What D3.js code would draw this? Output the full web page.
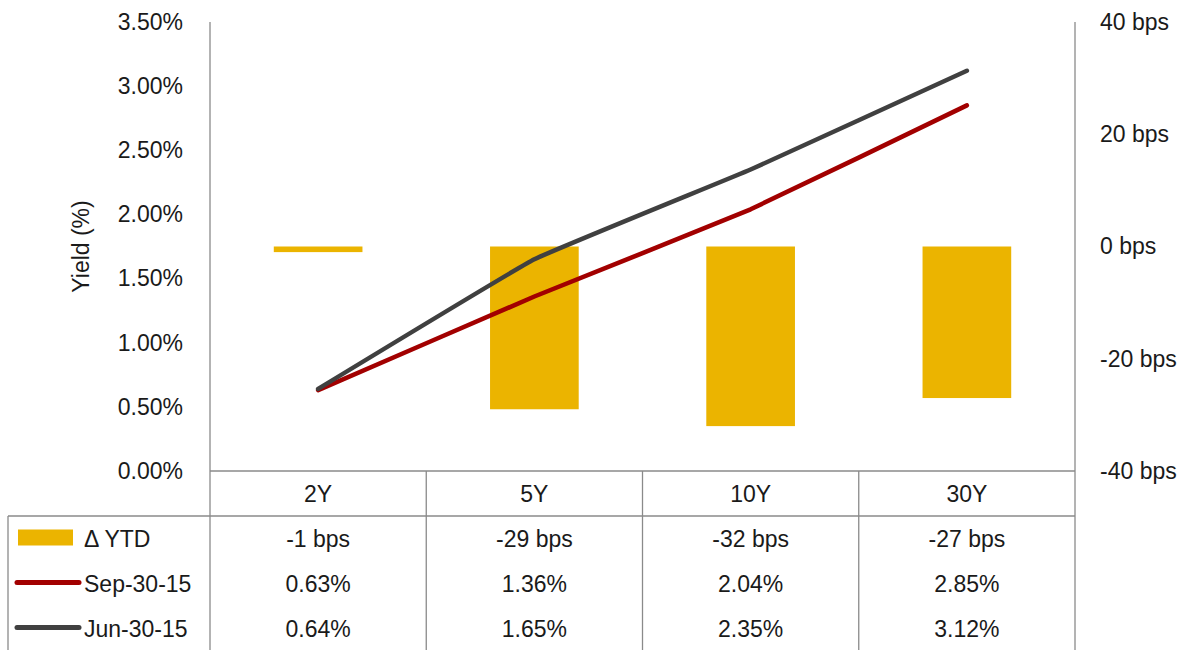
<!DOCTYPE html>
<html>
<head>
<meta charset="utf-8">
<script src="https://cdn.jsdelivr.net/npm/d3@7"></script>
<style>
  body { margin: 0; background: #fff; }
  svg text { font-family: "Liberation Sans", Arial, sans-serif; fill: #1a1a1a; }
</style>
</head>
<body>
<div class="wrapper"></div>
<script>
// chart data
const tenors = ["2Y", "5Y", "10Y", "30Y"];
const deltaYtd = [-1, -29, -32, -27];          // bps
const sep30 = [0.63, 1.36, 2.04, 2.85];        // %
const jun30 = [0.64, 1.65, 2.35, 3.12];        // %
const leftTicks = [0, 0.5, 1, 1.5, 2, 2.5, 3, 3.5];
const rightTicks = [-40, -20, 0, 20, 40];

const width = 1192, height = 650;
const plot = {left: 210, right: 1075, top: 22, bottom: 471};
const rowH = 45;
const gold = "#ebb400", red = "#a20000", dark = "#404040", grid = "#8a8a8a";
const fs = "23px";

const svg = d3.select(".wrapper").append("svg")
    .attr("width", width)
    .attr("height", height);

const x = d3.scaleBand().domain(tenors).range([plot.left, plot.right]).padding(0);
const yL = d3.scaleLinear().domain([0, 3.5]).range([plot.bottom, plot.top]);
const yR = d3.scaleLinear().domain([-40, 40]).range([plot.bottom, plot.top]);

// bars (right axis)
const barW = x.bandwidth() * 0.41;
svg.selectAll("rect.bar").data(deltaYtd).enter().append("rect")
    .attr("class", "bar")
    .attr("x", (d, i) => x(tenors[i]) + (x.bandwidth() - barW) / 2)
    .attr("width", barW)
    .attr("y", d => yR(Math.max(0, d)))
    .attr("height", d => Math.abs(yR(d) - yR(0)))
    .attr("fill", gold);

// lines (left axis), lightly smoothed like the original
const line = d3.line()
    .x((d, i) => x(tenors[i]) + x.bandwidth() / 2)
    .y(d => yL(d))
    .curve(d3.curveCardinal.tension(0.75));

[[sep30, red], [jun30, dark]].forEach(([vals, col]) => {
    svg.append("path")
        .datum(vals)
        .attr("d", line)
        .attr("fill", "none")
        .attr("stroke", col)
        .attr("stroke-width", 4.5)
        .attr("stroke-linecap", "round")
        .attr("stroke-linejoin", "round");
});

// axes
const axL = svg.append("g")
    .attr("transform", `translate(${plot.left},0)`)
    .call(d3.axisLeft(yL).tickValues(leftTicks).tickSize(0).tickPadding(27)
        .tickFormat(d => d.toFixed(2) + "%"));
const axR = svg.append("g")
    .attr("transform", `translate(${plot.right},0)`)
    .call(d3.axisRight(yR).tickValues(rightTicks).tickSize(0).tickPadding(25)
        .tickFormat(d => d + " bps"));
[axL, axR].forEach(a => {
    a.select(".domain").remove();
    a.selectAll("text").style("font-size", fs).attr("font-family", null).attr("fill", "#1a1a1a");
});

svg.append("text")
    .attr("transform", `translate(89,${(plot.top + plot.bottom) / 2}) rotate(-90)`)
    .attr("text-anchor", "middle")
    .style("font-size", fs)
    .text("Yield (%)");

// table grid
const tableBottom = plot.bottom + rowH * 4;
const g = svg.append("g").attr("stroke", grid).attr("stroke-width", 1.3);
// axis verticals that continue into table
g.append("line").attr("x1", plot.left).attr("x2", plot.left).attr("y1", plot.top).attr("y2", tableBottom);
g.append("line").attr("x1", plot.right).attr("x2", plot.right).attr("y1", plot.top).attr("y2", tableBottom);
// category separators
tenors.slice(1).forEach(t => {
    g.append("line").attr("x1", x(t)).attr("x2", x(t)).attr("y1", plot.bottom).attr("y2", tableBottom);
});
g.append("line").attr("x1", plot.left).attr("x2", plot.right).attr("y1", plot.bottom).attr("y2", plot.bottom);
g.append("line").attr("x1", 8).attr("x2", plot.right).attr("y1", plot.bottom + rowH).attr("y2", plot.bottom + rowH);
g.append("line").attr("x1", 8).attr("x2", 8).attr("y1", plot.bottom + rowH).attr("y2", tableBottom);

// header labels
svg.selectAll("text.cat").data(tenors).enter().append("text")
    .attr("class", "cat")
    .attr("x", d => x(d) + x.bandwidth() / 2)
    .attr("y", plot.bottom + rowH / 2)
    .attr("dy", "0.35em")
    .attr("text-anchor", "middle")
    .style("font-size", fs)
    .text(d => d);

// data rows
const rows = [
    {name: "\u0394 YTD", vals: deltaYtd.map(d => d + " bps"), type: "bar", color: gold},
    {name: "Sep-30-15", vals: sep30.map(d => d.toFixed(2) + "%"), type: "line", color: red},
    {name: "Jun-30-15", vals: jun30.map(d => d.toFixed(2) + "%"), type: "line", color: dark}
];

rows.forEach((r, ri) => {
    const cy = plot.bottom + rowH * (ri + 1) + rowH / 2;
    if (r.type === "bar") {
        svg.append("rect").attr("x", 18).attr("y", cy - 9).attr("width", 55).attr("height", 16).attr("fill", r.color);
    } else {
        svg.append("line").attr("x1", 17).attr("x2", 79).attr("y1", cy - 1).attr("y2", cy - 1)
            .attr("stroke", r.color).attr("stroke-width", 5).attr("stroke-linecap", "round");
    }
    svg.append("text")
        .attr("x", 84)
        .attr("y", cy)
        .attr("dy", "0.35em")
        .style("font-size", fs)
        .text(r.name);
    svg.selectAll(null).data(r.vals).enter().append("text")
        .attr("x", (d, i) => x(tenors[i]) + x.bandwidth() / 2)
        .attr("y", cy)
        .attr("dy", "0.35em")
        .attr("text-anchor", "middle")
        .style("font-size", fs)
        .text(d => d);
});
</script>
</body>
</html>
